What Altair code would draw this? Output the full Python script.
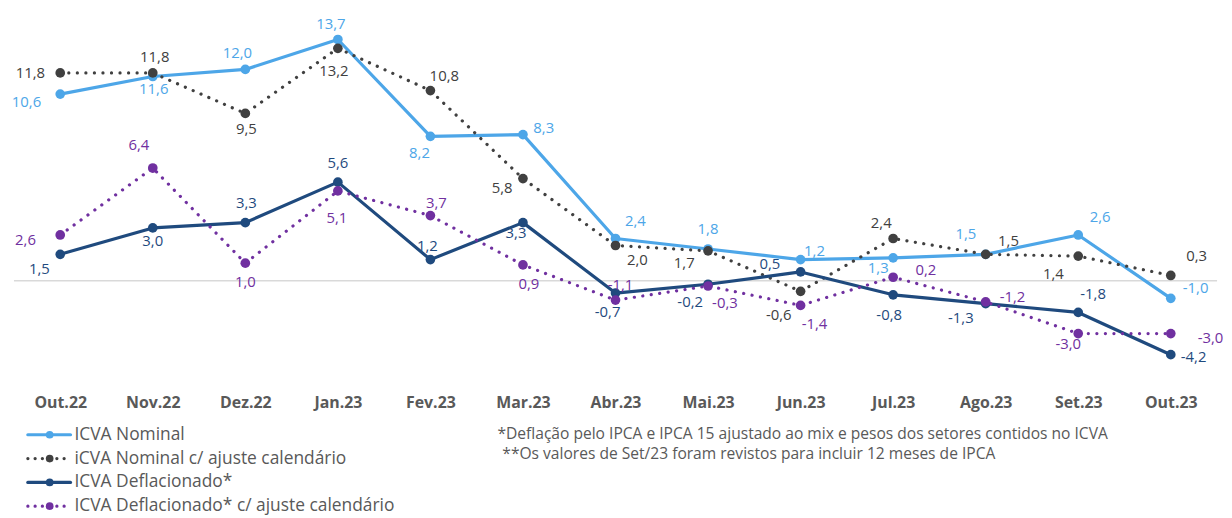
import altair as alt
import pandas as pd

# ---------------- data ----------------
months = ["Out.22", "Nov.22", "Dez.22", "Jan.23", "Fev.23", "Mar.23", "Abr.23",
          "Mai.23", "Jun.23", "Jul.23", "Ago.23", "Set.23", "Out.23"]

series_names = ["ICVA Nominal",
                "iCVA Nominal c/ ajuste calendário",
                "ICVA Deflacionado*",
                "ICVA Deflacionado* c/ ajuste calendário"]

nominal = [10.6, 11.6, 12.0, 13.7, 8.2, 8.3, 2.4, 1.8, 1.2, 1.3, 1.5, 2.6, -1.0]
nominal_adj = [11.8, 11.8, 9.5, 13.2, 10.8, 5.8, 2.0, 1.7, -0.6, 2.4, 1.5, 1.4, 0.3]
deflated = [1.5, 3.0, 3.3, 5.6, 1.2, 3.3, -0.7, -0.2, 0.5, -0.8, -1.3, -1.8, -4.2]
deflated_adj = [2.6, 6.4, 1.0, 5.1, 3.7, 0.9, -1.1, -0.3, -1.4, 0.2, -1.2, -3.0, -3.0]

footnotes = ["*Deflação pelo IPCA e IPCA 15 ajustado ao mix e pesos dos setores contidos no ICVA",
             "**Os valores de Set/23 foram revistos para incluir 12 meses de IPCA"]

# ---------------- styles ----------------
colors = ["#4DA6E8", "#404040", "#1F4A7E", "#7030A0"]
dotted = [False, True, False, True]

# label offsets (dx, dy) in pixels relative to each point
label_offsets = [
    [(-34, 8), (1, 13), (-8, -17), (-7, -16), (-11, 17), (21, -7), (20, -18),
     (0, -20), (14, -9), (-15, 10), (-20, -20), (22, -18), (25, -10)],
    [(-30, 0), (2, -16), (1, 16), (-4, 23), (14, -15), (-21, 10), (22, 15),
     (-24, 12), (-22, 24), (-12, -16), (23, -13), (-25, 18), (26, -20)],
    [(-21, 15), (0, 13), (1, -20), (0, -19), (-3, -14), (-7, 10), (-8, 19),
     (-18, 18), (-31, -8), (-4, 20), (-25, 15), (15, -19), (23, 2)],
    [(-35, 5), (-14, -23), (0, 19), (-1, 27), (6, -13), (6, 19), (5, -15),
     (17, 17), (14, 19), (33, -7), (27, -5), (-10, 11), (40, 4)],
]

FONT = "Open Sans"
TXT = "#595959"
W = 1212

all_values = [nominal, nominal_adj, deflated, deflated_adj]


def fmt(v):
    return f"{v:.1f}".replace(".", ",")


rows = []
for name, vals in zip(series_names, all_values):
    for i, (m, v) in enumerate(zip(months, vals)):
        rows.append({"series": name, "month": m, "idx": i, "value": v, "label": fmt(v)})
df = pd.DataFrame(rows)

x_enc = alt.X("month:N", sort=months,
              scale=alt.Scale(type="point", padding=0.5),
              axis=alt.Axis(title=None, labelFont=FONT, labelFontSize=16,
                            labelFontWeight="bold", labelColor=TXT, domain=False,
                            ticks=False, tickSize=0, labelPadding=8, grid=False,
                            labelAngle=0))
y_scale = alt.Scale(domain=[-6, 15.1], nice=False, zero=False)
y_enc = alt.Y("value:Q", scale=y_scale, axis=None)

layers = []
zero = alt.Chart(pd.DataFrame({"value": [0]})).mark_rule(
    color="#D9D9D9", strokeWidth=1.5).encode(y=y_enc)
layers.append(zero)

for k, name in enumerate(series_names):
    sdf = df[df["series"] == name]
    line_kw = dict(color=colors[k], strokeWidth=3.2, strokeCap="round", strokeJoin="round")
    if dotted[k]:
        line_kw["strokeDash"] = [0.1, 8.5]
    layers.append(alt.Chart(sdf).mark_line(**line_kw).encode(x=x_enc, y=y_enc))
    layers.append(alt.Chart(sdf).mark_circle(color=colors[k], size=95, opacity=1)
                  .encode(x=x_enc, y=y_enc))

for k, name in enumerate(series_names):
    sdf = df[df["series"] == name]
    for i in range(len(months)):
        dx, dy = label_offsets[k][i]
        layers.append(
            alt.Chart(sdf).transform_filter(alt.datum.idx == i)
            .mark_text(dx=dx, dy=dy, font=FONT, fontSize=15, color=colors[k],
                       align="center", baseline="middle")
            .encode(x=x_enc, y=y_enc, text="label:N"))

main = alt.layer(*layers).properties(width=W, height=374.3)

# ---------------- legend + footnotes panel ----------------
leg_x0, leg_x1, leg_dot, leg_txt = -0.35, 0.111, -0.114, 0.154
leg_df = pd.DataFrame({"series": series_names, "row": list(range(4)),
                       "x0": [leg_x0] * 4, "x1": [leg_x1] * 4,
                       "xd": [leg_dot] * 4, "xt": [leg_txt] * 4})
lx = alt.Scale(domain=[-0.5, 12.5], nice=False, zero=False)
ly = alt.Scale(domain=[-0.5, 3.5], nice=False, zero=False, reverse=True)

leg_layers = []
for k, name in enumerate(series_names):
    d = leg_df[leg_df["series"] == name]
    kw = dict(color=colors[k], strokeWidth=3.2, strokeCap="round")
    if dotted[k]:
        kw["strokeDash"] = [0.1, 7.2]
    leg_layers.append(alt.Chart(d).mark_rule(**kw).encode(
        x=alt.X("x0:Q", scale=lx, axis=None), x2="x1:Q",
        y=alt.Y("row:Q", scale=ly, axis=None)))
    leg_layers.append(alt.Chart(d).mark_circle(color=colors[k], size=60, opacity=1).encode(
        x=alt.X("xd:Q", scale=lx, axis=None), y=alt.Y("row:Q", scale=ly, axis=None)))
leg_layers.append(alt.Chart(leg_df).mark_text(
    align="left", baseline="middle", font=FONT, fontSize=17.5, color=TXT).encode(
    x=alt.X("xt:Q", scale=lx, axis=None), y=alt.Y("row:Q", scale=ly, axis=None),
    text="series:N"))

fn_df = pd.DataFrame({"text": footnotes, "x": [4.724, 4.777], "row": [-0.015, 0.82]})
leg_layers.append(alt.Chart(fn_df).mark_text(
    align="left", baseline="middle", font=FONT, fontSize=15.7, color=TXT).encode(
    x=alt.X("x:Q", scale=lx, axis=None), y=alt.Y("row:Q", scale=ly, axis=None),
    text="text:N"))

legend_panel = alt.layer(*leg_layers).properties(width=W, height=96)

chart = alt.vconcat(main, legend_panel, spacing=12).properties(
    padding={"left": 3, "top": 5, "right": 0, "bottom": 0},
    background="white"
).configure_view(stroke=None)

chart.save("out.html", embed_options={"renderer": "svg", "actions": False})
